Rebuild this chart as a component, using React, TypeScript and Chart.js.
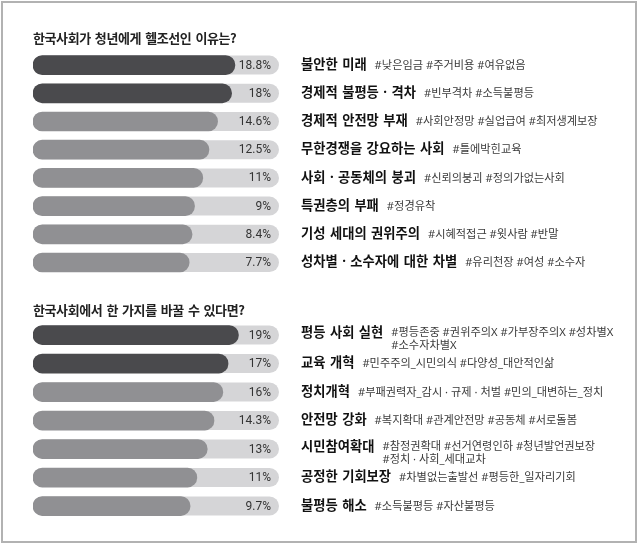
import React, { useEffect, useRef } from "react";
import { Chart, registerables } from "chart.js";

Chart.register(...registerables);

// ---- Data ----
const q1Title = "한국사회가 청년에게 헬조선인 이유는?";
const q1Categories = [
  "불안한 미래",
  "경제적 불평등 · 격차",
  "경제적 안전망 부재",
  "무한경쟁을 강요하는 사회",
  "사회 · 공동체의 붕괴",
  "특권층의 부패",
  "기성 세대의 권위주의",
  "성차별 · 소수자에 대한 차별",
];
const q1Values = [18.8, 18, 14.6, 12.5, 11, 9, 8.4, 7.7];
const q1Tags = [
  ["#낮은임금 #주거비용 #여유없음"],
  ["#빈부격차 #소득불평등"],
  ["#사회안정망 #실업급여 #최저생계보장"],
  ["#틀에박힌교육"],
  ["#신뢰의붕괴 #정의가없는사회"],
  ["#정경유착"],
  ["#시혜적접근 #윗사람 #반말"],
  ["#유리천장 #여성 #소수자"],
];

const q2Title = "한국사회에서 한 가지를 바꿀 수 있다면?";
const q2Categories = [
  "평등 사회 실현",
  "교육 개혁",
  "정치개혁",
  "안전망 강화",
  "시민참여확대",
  "공정한 기회보장",
  "불평등 해소",
];
const q2Values = [19, 17, 16, 14.3, 13, 11, 9.7];
const q2Tags = [
  ["#평등존중 #권위주의X #가부장주의X #성차별X", "#소수자차별X"],
  ["#민주주의_시민의식 #다양성_대안적인삶"],
  ["#부패권력자_감시 · 규제 · 처벌 #민의_대변하는_정치"],
  ["#복지확대 #관계안전망 #공동체 #서로돌봄"],
  ["#참정권확대 #선거연령인하 #청년발언권보장", "#정치 · 사회_세대교차"],
  ["#차별없는출발선 #평등한_일자리기회"],
  ["#소득불평등 #자산불평등"],
];

// ---- Styles ----
const DARK = "#4a4a4d";
const LIGHT = "#909093";
const TRACK = "#d5d5d7";
const KR = '"Noto Sans CJK KR", "Noto Sans", sans-serif';
const MIX = '"Noto Sans", "Noto Sans CJK KR", sans-serif';

function fmt(v: number) {
  return `${v}%`;
}

type Section = {
  title: string;
  categories: string[];
  values: number[];
  tags: string[][];
  xMin: number;
  xMax: number;
  height: number;
  padTop: number;
  padBottom: number;
  titleY: number;
};

const sections: Section[] = [
  {
    title: q1Title,
    categories: q1Categories,
    values: q1Values,
    tags: q1Tags,
    xMin: -30.2,
    xMax: 29.5,
    height: 280,
    padTop: 51,
    padBottom: 3.4,
    titleY: 38,
  },
  {
    title: q2Title,
    categories: q2Categories,
    values: q2Values,
    tags: q2Tags,
    xMin: -20.5,
    xMax: 26.8,
    height: 264,
    padTop: 40.8,
    padBottom: 23.7,
    titleY: 30,
  },
];

const BAR_H = 19;

function makePlugin(sec: Section) {
  return {
    id: "decor",
    beforeDatasetsDraw(chart: any) {
      const { ctx, chartArea, scales } = chart;
      const y = scales.y;
      ctx.save();
      ctx.fillStyle = TRACK;
      sec.categories.forEach((_, i) => {
        const cy = y.getPixelForValue(i);
        ctx.beginPath();
        ctx.roundRect(chartArea.left, cy - BAR_H / 2, chartArea.right - chartArea.left, BAR_H, BAR_H / 2);
        ctx.fill();
      });
      ctx.restore();
    },
    afterDatasetsDraw(chart: any) {
      const { ctx, chartArea, scales } = chart;
      const y = scales.y;
      const c = ctx as any;
      ctx.save();
      // title
      ctx.fillStyle = "#222";
      ctx.font = `bold 13px ${KR}`;
      ctx.textBaseline = "middle";
      ctx.textAlign = "left";
      c.letterSpacing = "-0.4px";
      c.wordSpacing = "1.5px";
      ctx.fillText(sec.title, chartArea.left, sec.titleY);

      sec.categories.forEach((cat, i) => {
        const cy = y.getPixelForValue(i);
        // value label
        c.letterSpacing = "0px";
        c.wordSpacing = "0px";
        ctx.font = `12px Roboto, sans-serif`;
        ctx.fillStyle = "#333";
        ctx.textAlign = "right";
        ctx.fillText(fmt(sec.values[i]), chartArea.right - 8, cy + 0.5);
        // category label
        const multi = sec.tags[i].length > 1;
        const ly = multi ? cy - 1.5 : cy;
        ctx.textAlign = "left";
        ctx.font = `bold 13.3px ${MIX}`;
        c.letterSpacing = "0px";
        c.wordSpacing = "1px";
        ctx.fillStyle = "#111";
        const lx = chartArea.right + 22;
        ctx.fillText(cat, lx, ly);
        const w = ctx.measureText(cat).width;
        // tags
        ctx.font = `11.2px ${MIX}`;
        c.letterSpacing = "0px";
        c.wordSpacing = "0px";
        ctx.fillStyle = "#3a3a3a";
        const tx = lx + w + 8;
        sec.tags[i].forEach((line, k) => {
          const ty = multi ? cy - 2 + k * 13 : cy + 0.5;
          ctx.fillText(line, tx, ty);
        });
      });
      ctx.restore();
    },
  };
}

function SectionChart({ sec, top }: { sec: Section; top: number }) {
  const ref = useRef<HTMLCanvasElement | null>(null);
  useEffect(() => {
    if (!ref.current) return;
    const chart = new Chart(ref.current, {
      type: "bar",
      data: {
        labels: sec.categories,
        datasets: [
          {
            data: sec.values,
            base: sec.xMin,
            backgroundColor: sec.values.map((_, i) => (i < 2 ? DARK : LIGHT)),
            borderRadius: 10,
            borderSkipped: false,
            barThickness: BAR_H,
          } as any,
        ],
      },
      options: {
        indexAxis: "y",
        animation: false,
        responsive: false,
        maintainAspectRatio: false,
        layout: {
          padding: { left: 33, right: 361, top: sec.padTop, bottom: sec.padBottom },
        },
        plugins: {
          legend: { display: false },
          tooltip: { enabled: false },
          title: { display: false },
        },
        scales: {
          x: { display: false, min: sec.xMin, max: sec.xMax },
          y: { display: false },
        },
      },
      plugins: [makePlugin(sec)],
    });
    return () => chart.destroy();
  }, [sec]);
  return (
    <canvas
      ref={ref}
      width={640}
      height={sec.height}
      style={{ position: "absolute", left: 0, top, width: 640, height: sec.height }}
    />
  );
}

export default function App() {
  return (
    <div
      style={{
        position: "absolute",
        left: 0,
        top: 0,
        width: 640,
        height: 544,
        background: "#fff",
        overflow: "hidden",
      }}
    >
      <div
        style={{
          position: "absolute",
          left: 1,
          top: 1,
          width: 636,
          height: 542,
          boxSizing: "border-box",
          border: "2px solid #b2b2b2",
        }}
      />
      <SectionChart sec={sections[0]} top={0} />
      <SectionChart sec={sections[1]} top={280} />
    </div>
  );
}
